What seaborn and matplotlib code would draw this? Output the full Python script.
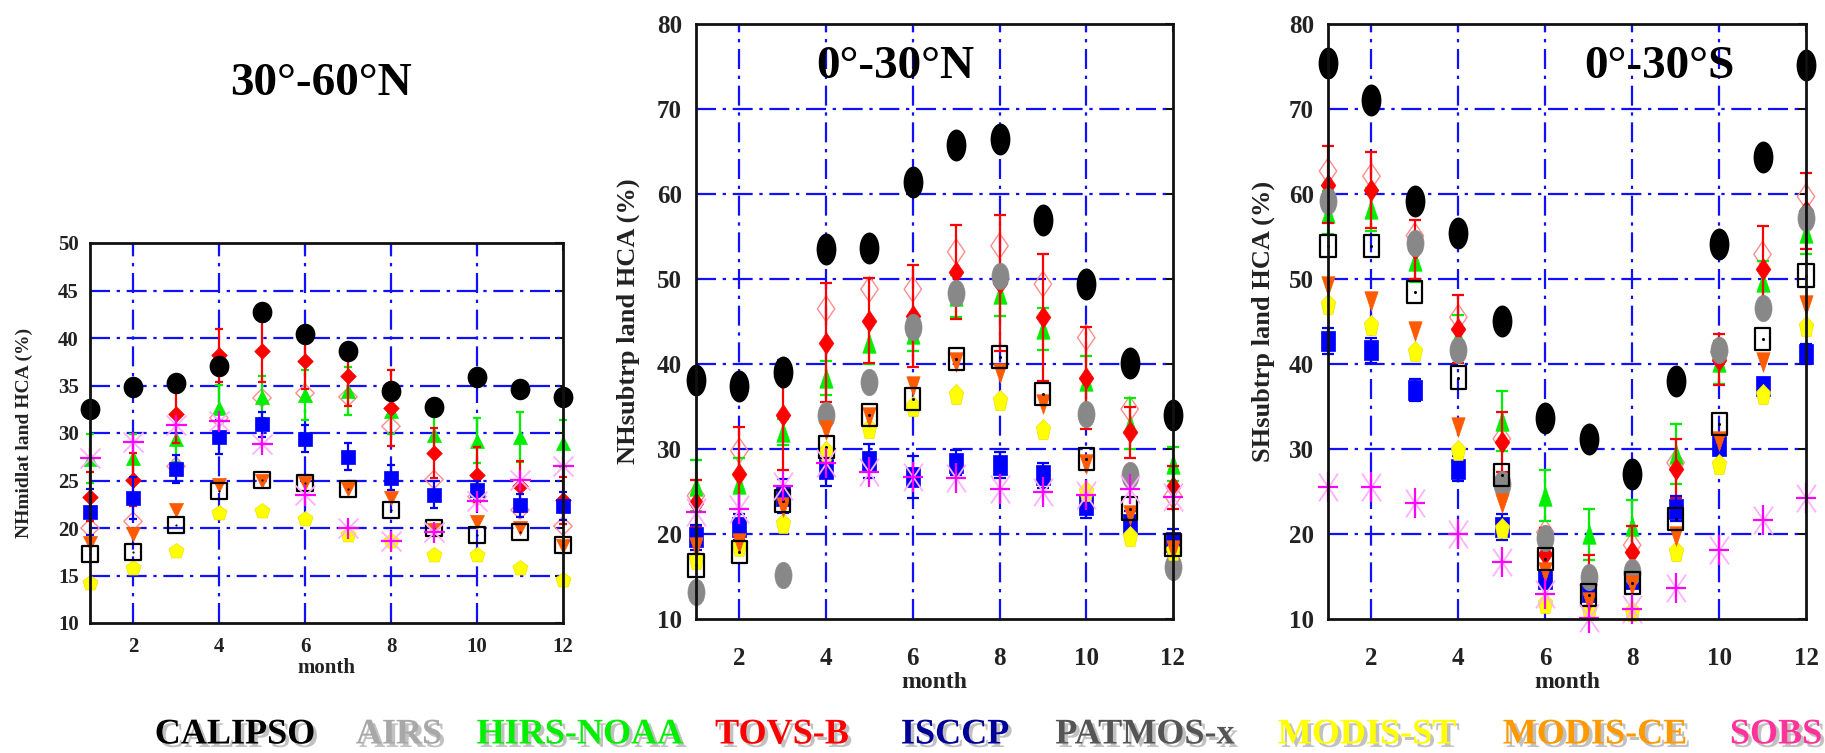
import numpy as np
import matplotlib
matplotlib.use("Agg")
import matplotlib.pyplot as plt
import seaborn as sns
from matplotlib.markers import MarkerStyle
from matplotlib.transforms import Affine2D
import matplotlib.patheffects as pe

nan = np.nan
months = list(range(1, 13))

# ---------------- 30°-60°N, land ----------------
nhmid_calipso = [32.5, 34.8, 35.3, 37.1, 42.7, 40.4, 38.6, 34.4, 32.7, 35.9, 34.6, 33.8]
nhmid_airs = [nan] * 12
nhmid_hirs = [27.3, 27.4, 29.4, 32.6, 33.8, 34.0, 34.4, 32.3, 29.8, 29.2, 29.6, 28.9]
nhmid_hirs_err = [2.6, 2.5, 2.4, 2.5, 2.2, 2.6, 2.5, 2.4, 2.0, 2.4, 2.6, 2.5]
nhmid_tovs = [23.3, 25.1, 32.0, 38.2, 38.6, 37.6, 36.0, 32.6, 27.9, 25.6, 24.4, 22.9]
nhmid_tovs_err = [2.6, 2.8, 3.0, 2.8, 3.2, 3.0, 3.2, 4.0, 2.6, 2.9, 2.7, 2.5]
nhmid_tovs_alt = [20.0, 20.7, 26.5, 31.6, 33.7, 34.2, 33.8, 30.7, 25.1, 23.3, 21.9, 20.2]
nhmid_isccp = [21.7, 23.2, 26.2, 29.6, 30.9, 29.4, 27.5, 25.3, 23.5, 24.0, 22.4, 22.3]
nhmid_isccp_err = [2.4, 2.2, 1.5, 1.8, 1.3, 1.4, 1.4, 1.3, 1.4, 1.0, 1.2, 1.5]
nhmid_patmos = [17.3, 17.5, 20.3, 23.9, 25.1, 24.7, 24.1, 21.9, 20.0, 19.3, 19.6, 18.2]
nhmid_modis_st = [14.2, 15.8, 17.6, 21.6, 21.8, 20.9, 19.3, 18.6, 17.2, 17.2, 15.8, 14.5]
nhmid_modis_ce = [18.4, 19.4, 21.9, 24.5, 24.9, 24.7, 24.1, 23.2, 19.8, 20.6, 20.0, 18.1]
nhmid_sobs = [27.4, 29.1, 30.8, 31.3, 28.8, 23.5, 20.0, 18.6, 19.6, 22.8, 25.1, 26.5]

# ---------------- 0°-30°N, land ----------------
nhsub_calipso = [38.1, 37.4, 39.1, 53.5, 53.7, 61.4, 65.8, 66.5, 57.0, 49.4, 40.1, 34.0]
nhsub_airs = [13.2, nan, 15.2, 34.0, 37.9, 44.3, 48.4, 50.4, nan, 34.1, 26.9, 16.1]
nhsub_hirs = [25.7, 25.9, 32.0, 38.4, 42.5, 43.5, 48.0, 48.2, 44.1, 38.0, 33.0, 28.2]
nhsub_hirs_err = [3.0, 3.0, 1.5, 2.0, 2.5, 2.0, 2.5, 2.5, 2.5, 3.0, 3.0, 2.0]
nhsub_tovs = [23.7, 27.1, 34.0, 42.5, 45.1, 45.7, 50.8, 49.5, 45.5, 38.4, 32.0, 25.5]
nhsub_tovs_err = [2.7, 5.5, 6.5, 7.0, 5.0, 6.0, 5.5, 8.0, 7.5, 6.0, 3.0, 2.5]
nhsub_tovs_alt = [24.5, 29.8, 38.5, 46.5, 48.8, 48.8, 53.2, 53.9, 49.4, 43.1, 34.7, 24.5]
nhsub_isccp = [19.6, 20.8, 24.5, 27.7, 28.6, 26.7, 28.4, 28.1, 26.9, 23.4, 21.2, 19.1]
nhsub_isccp_err = [1.5, 1.5, 2.0, 2.0, 2.0, 2.5, 1.5, 1.5, 1.5, 1.5, 1.5, 1.5]
nhsub_patmos = [16.3, 17.9, 23.9, 30.2, 34.0, 35.9, 40.6, 40.8, 36.5, 28.8, 23.0, 18.7]
nhsub_modis_st = [16.9, 18.5, 21.2, 29.6, 32.4, 34.9, 36.3, 35.7, 32.2, 24.9, 19.6, 18.0]
nhsub_modis_ce = [18.5, 19.0, 23.2, 32.2, 33.8, 37.4, 40.2, 39.0, 35.3, 28.2, 22.2, 18.1]
nhsub_sobs = [22.6, 23.0, 25.7, 28.3, 27.3, 26.7, 26.6, 25.3, 24.9, 24.6, 25.3, 24.3]

# ---------------- 0°-30°S, land ----------------
shsub_calipso = [75.4, 71.1, 59.2, 55.4, 45.1, 33.7, 31.2, 27.1, 38.0, 54.1, 64.4, 75.2]
shsub_airs = [59.2, nan, 54.2, 41.7, 25.9, 19.5, 14.9, 15.5, nan, 41.7, 46.6, 57.2]
shsub_hirs = [57.8, 58.2, 52.1, 43.3, 33.3, 24.5, 20.0, 21.0, 29.4, 40.2, 49.6, 55.4]
shsub_hirs_err = [2.5, 2.5, 2.5, 2.5, 3.5, 3.0, 3.0, 3.0, 3.5, 2.5, 2.5, 2.5]
shsub_tovs = [61.1, 60.5, 53.5, 44.1, 30.8, 17.7, 14.5, 17.9, 27.7, 40.5, 51.2, 58.0]
shsub_tovs_err = [4.5, 4.5, 3.5, 4.0, 3.5, 3.0, 3.0, 3.0, 3.5, 3.0, 5.0, 4.5]
shsub_tovs_alt = [62.7, 62.1, 55.1, 45.5, 31.2, 20.2, 14.0, 18.7, 28.4, 41.4, 52.9, 59.7]
shsub_isccp = [42.7, 41.6, 36.9, 27.7, 20.8, 14.7, 13.2, 14.7, 23.0, 30.4, 37.4, 41.2]
shsub_isccp_err = [1.5, 1.5, 1.3, 1.5, 1.5, 1.0, 1.0, 1.0, 1.5, 1.0, 1.0, 1.2]
shsub_patmos = [53.9, 53.9, 48.5, 38.4, 26.9, 17.1, 12.8, 14.2, 21.8, 32.9, 42.9, 50.4]
shsub_modis_st = [47.0, 44.5, 41.4, 29.8, 20.6, 11.8, 11.0, 10.8, 17.9, 28.1, 36.3, 44.3]
shsub_modis_ce = [49.2, 47.4, 43.9, 32.6, 23.7, 15.5, 12.0, 14.0, 19.8, 31.0, 40.2, 47.0]
shsub_sobs = [25.5, 25.5, 23.6, 20.0, 16.7, 13.0, 10.1, 11.2, 13.6, 18.1, 21.6, 24.2]

region_titles = ["30°-60°N", "0°-30°N", "0°-30°S"]
region_ylabels = ["NHmidlat land HCA (%)", "NHsubtrp land HCA (%)", "SHsubtrp land HCA (%)"]
legend_names = ["CALIPSO", "AIRS", "HIRS-NOAA", "TOVS-B", "ISCCP",
                "PATMOS-x", "MODIS-ST", "MODIS-CE", "SOBS"]
legend_colors = ["#000000", "#a8a8a8", "#00ee00", "#ff0000", "#000099",
                 "#555555", "#ffff00", "#ff9900", "#ff3399"]

# ---------------- styling ----------------
sns.set_style("white")
plt.rcParams["font.family"] = ["Liberation Serif", "DejaVu Serif"]
plt.rcParams["font.weight"] = "bold"

W, H = 1825, 753
fig = plt.figure(figsize=(W / 100, H / 100), dpi=100)


def rect(left, top, right, bottom):
    return [left / W, 1 - bottom / H, (right - left) / W, (bottom - top) / H]


axes_rects = [rect(90, 243, 563, 623), rect(696, 24, 1173, 619), rect(1328, 24, 1806, 619)]
ylims = [(10, 50), (10, 80), (10, 80)]
ysteps = [5, 10, 10]

GRID_BLUE = "#1010ff"
DASHDOT = (0, (9, 3, 1.5, 3))


def marker(base, sx, fill=True):
    return MarkerStyle(base, fillstyle="full" if fill else "none",
                       transform=Affine2D().scale(sx, 1.0))


def draw_panel(ax, data, big):
    calipso, airs, hirs, hirs_err, tovs, tovs_err, tovs_alt, isccp, isccp_err, \
        patmos, modis_st, modis_ce, sobs = data
    sx = 0.68 if big else 1.0
    k = 1.0 if big else 0.72
    x = months

    def scat(vals, mk, size, color, z, lw=1.5, ec=None):
        kw = dict(x=x, y=vals, ax=ax, marker=mk, s=(size * k) ** 2, color=color,
                  linewidth=lw, zorder=z, clip_on=False, legend=False)
        if mk.is_filled():
            kw["edgecolor"] = ec if ec is not None else color
        sns.scatterplot(**kw)

    def ebar(vals, err, color, z):
        ax.errorbar(x, vals, yerr=err, fmt="none", ecolor=color, elinewidth=1.6,
                    capsize=3.5 * k + 0.5, capthick=1.6, zorder=z, clip_on=False)

    # alternate TOVS retrieval (open diamonds)
    scat(tovs_alt, marker("D", sx, fill=False), 13, "#ff8c8c", 2, lw=1.0)
    # HIRS-NOAA
    ebar(hirs, hirs_err, "#00ee00", 3)
    scat(hirs, marker("^", sx), 14, "#00ee00", 3, lw=0.5)
    # TOVS-B
    ebar(tovs, tovs_err, "#ff0000", 4)
    scat(tovs, marker("D", sx), 11, "#ff0000", 4, lw=0.5)
    # ISCCP
    ebar(isccp, isccp_err, "#0000ff", 5)
    scat(isccp, marker("s", sx), 14.5, "#0000ff", 5, lw=0.5)
    # AIRS
    scat(airs, marker("o", sx * 0.95), 19, "#888888", 6, lw=0.5)
    # MODIS-ST
    scat(modis_st, marker("p", sx), 16, "#ffff00", 7, lw=0.5, ec="#f0e000")
    # MODIS-CE
    scat(modis_ce, marker("v", sx), 14, "#ff5a00", 8, lw=0.5)
    # PATMOS-x: open square with centre dot
    scat(patmos, marker("s", sx, fill=False), 16, "#000000", 9, lw=1.6)
    scat(patmos, marker("o", 1.0), 2.2, "#000000", 9, lw=0)
    # SOBS: asterisk
    scat(sobs, marker("x", sx), 20, "#ffb0ff", 10, lw=1.3)
    scat(sobs, marker("+", sx), 21, "#ff00ff", 10, lw=1.6)
    # CALIPSO
    scat(calipso, marker("o", 0.62 if big else 0.92), 23 if big else 21.5, "#000000", 11, lw=0)


panel_data = [
    (nhmid_calipso, nhmid_airs, nhmid_hirs, nhmid_hirs_err, nhmid_tovs, nhmid_tovs_err,
     nhmid_tovs_alt, nhmid_isccp, nhmid_isccp_err, nhmid_patmos, nhmid_modis_st,
     nhmid_modis_ce, nhmid_sobs),
    (nhsub_calipso, nhsub_airs, nhsub_hirs, nhsub_hirs_err, nhsub_tovs, nhsub_tovs_err,
     nhsub_tovs_alt, nhsub_isccp, nhsub_isccp_err, nhsub_patmos, nhsub_modis_st,
     nhsub_modis_ce, nhsub_sobs),
    (shsub_calipso, shsub_airs, shsub_hirs, shsub_hirs_err, shsub_tovs, shsub_tovs_err,
     shsub_tovs_alt, shsub_isccp, shsub_isccp_err, shsub_patmos, shsub_modis_st,
     shsub_modis_ce, shsub_sobs),
]

ax_list = []
for i in range(3):
    big = i > 0
    ax = fig.add_axes(axes_rects[i])
    ax_list.append(ax)
    ax.set_xlim(1, 12)
    ax.set_ylim(*ylims[i])
    yt = np.arange(ylims[i][0], ylims[i][1] + 0.1, ysteps[i])
    ax.set_xticks([2, 4, 6, 8, 10, 12])
    ax.set_yticks(yt)
    # blue dash-dot grid
    for gx in [2, 4, 6, 8, 10]:
        ax.axvline(gx, color=GRID_BLUE, lw=1.6, ls=DASHDOT, zorder=1)
    for gy in yt[1:-1]:
        ax.axhline(gy, color=GRID_BLUE, lw=1.6, ls=DASHDOT, zorder=1)
    for sp in ax.spines.values():
        sp.set_color("#111111")
        sp.set_linewidth(2.0)
        sp.set_zorder(12)
    tick_fs = 18 if big else 15
    ax.tick_params(direction="in", top=True, right=True, length=6, width=1.5,
                   colors="#111111", labelsize=tick_fs)
    ax.tick_params(axis="x", pad=20 if big else 10)
    ax.tick_params(axis="y", pad=10 if big else 8)
    for lab in ax.get_xticklabels() + ax.get_yticklabels():
        lab.set_fontweight("bold")
        lab.set_color("#222222")

    draw_panel(ax, panel_data[i], big)

    ax.set_xlabel("month", fontsize=17 if big else 15, fontweight="bold", color="#222222")
    ax.xaxis.label.set_va("center")
    ax.xaxis.set_label_coords(0.5, -0.107 if big else -0.118)
    ax.set_ylabel(region_ylabels[i], fontsize=19 if big else 14, fontweight="bold",
                  color="#222222")
    ax.yaxis.label.set_va("center")

ax_list[0].yaxis.set_label_coords((24 - 90) / 473, 0.5)
ax_list[1].yaxis.set_label_coords((628 - 696) / 477, 0.5)
ax_list[2].yaxis.set_label_coords((1263 - 1328) / 478, 0.5)

# region titles
title_pos = [(321, 84), (895, 67), (1659, 67)]
for t, (px, py) in zip(region_titles, title_pos):
    fig.text(px / W, 1 - py / H, t, ha="center", va="center", fontsize=34,
             fontweight="bold", color="#000000")

# colour-coded dataset names along the bottom
legend_x = [235, 399, 580, 782, 955, 1145, 1367, 1595, 1776]
for name, col, px in zip(legend_names, legend_colors, legend_x):
    fig.text(px / W, 1 - 735 / H, name, ha="center", va="center", fontsize=26,
             fontweight="bold", color=col,
             path_effects=[pe.withSimplePatchShadow(offset=(2.5, -2.5),
                                                    shadow_rgbFace="#999999", alpha=0.6)])

fig.savefig("out.png", dpi=100, facecolor="white")
